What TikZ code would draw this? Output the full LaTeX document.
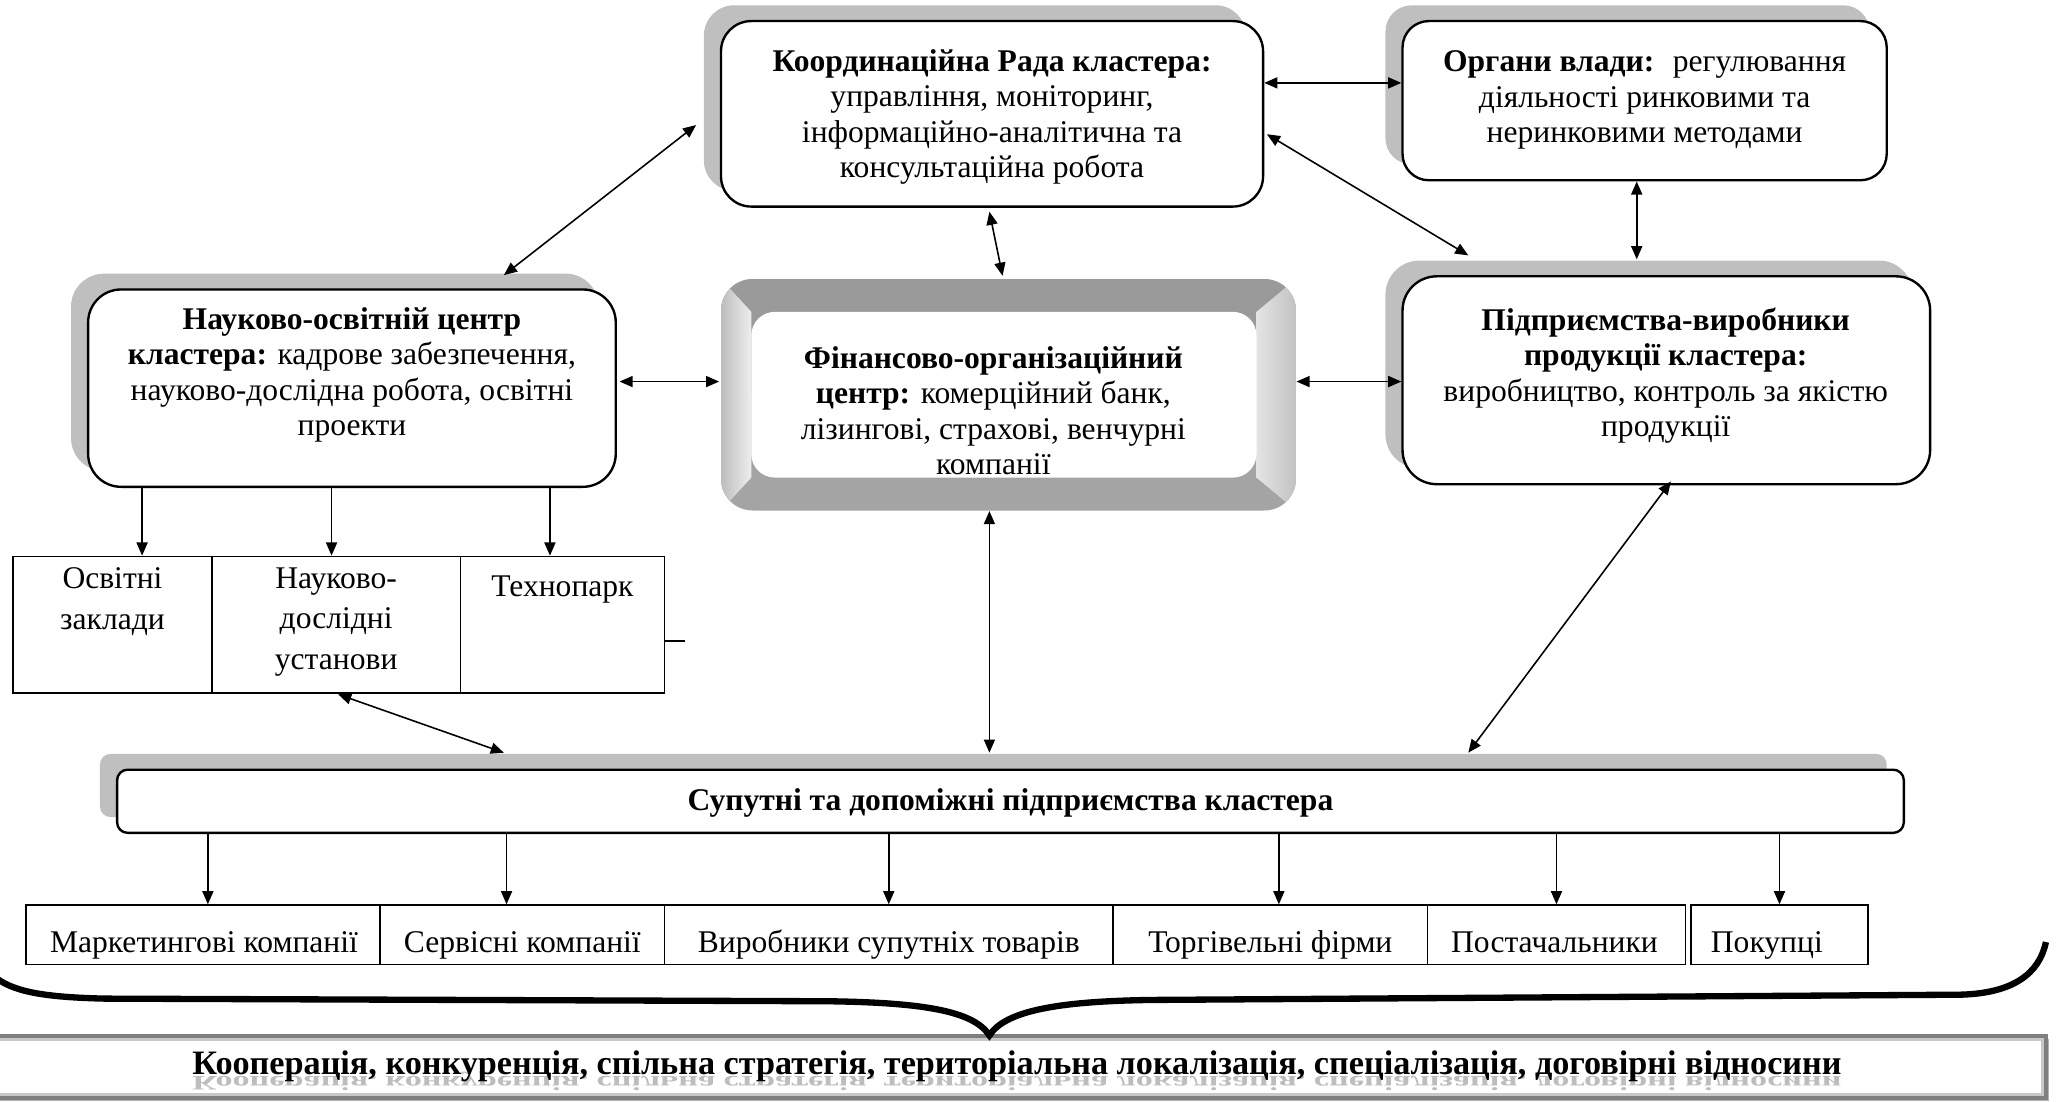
\documentclass[tikz,border=0pt]{standalone}
\usepackage{fontspec}
\setmainfont{Liberation Serif}
\usetikzlibrary{arrows.meta,calc,shadows}

\definecolor{shadegray}{HTML}{BFBFBF}
\definecolor{bevtop}{HTML}{9A9A9A}
\definecolor{bevbot}{HTML}{A4A4A4}
\definecolor{bevlo}{HTML}{BDBDBD}
\definecolor{bevli}{HTML}{EEEEEE}
\definecolor{bevri}{HTML}{E4E4E4}
\definecolor{bevro}{HTML}{C2C2C2}
\definecolor{framegray}{HTML}{7F7F7F}
\definecolor{frameinner}{HTML}{C8C8C8}
\definecolor{mirror}{HTML}{BDBDBD}

\tikzset{
  panel/.style={draw, line width=0.9pt, fill=white, rounded corners=#1, inner sep=0pt,
    drop shadow={shadow xshift=-6.5pt, shadow yshift=6pt, fill=shadegray, opacity=1}},
  panel/.default=10pt,
  txt/.style={align=center, inner sep=0pt},
  celltxt/.style={align=center, inner sep=0pt, anchor=north, font=\fontsize{12}{15.4}\selectfont},
  cell/.style={draw, line width=0.7pt, inner sep=0pt},
  link/.style={line width=0.6pt, {Triangle[length=5pt,width=4.2pt]}-{Triangle[length=5pt,width=4.2pt]}},
  down/.style={line width=0.6pt, -{Triangle[length=5pt,width=4.2pt]}},
  brace/.style={line width=2.4pt, line join=miter, line cap=butt},
  bigtxt/.style={inner sep=0pt, anchor=base, font=\fontsize{13}{15}\selectfont\bfseries},
}

\begin{document}
\begin{tikzpicture}[x=0.5pt, y=-0.5pt, font=\fontsize{12}{13.5}\selectfont]
\useasboundingbox (0,0) rectangle (1568,837);

% ---------- upper row ----------
\node[panel=11.5pt, minimum width=206pt, minimum height=70.5pt] (coord) at (754,86.5) {};
\node[txt] (coordT) at (754,89) {\textbf{Координаційна Рада кластера:}\\управління, моніторинг,\\інформаційно-аналітична та\\консультаційна робота};

\node[panel=10pt, minimum width=184pt, minimum height=60.5pt] (organs) at (1250,76.5) {};
\node[txt] (organsT) at (1250,76) {\textbf{Органи влади:}~ регулювання\\діяльності ринковими та\\неринковими методами};

% ---------- middle row ----------
\node[panel=12.5pt, minimum width=200.5pt, minimum height=75pt] (nauk) at (267.5,295) {};
\node[txt] (naukT) at (267.5,285) {\textbf{Науково-освітній центр}\\\textbf{кластера:} кадрове забезпечення,\\науково-дослідна робота, освітні\\проекти};

\node[panel=13pt, minimum width=200.5pt, minimum height=79pt] (pidpr) at (1266.5,289) {};
\node[txt] (pidprT) at (1266,285.5) {\textbf{Підприємства-виробники}\\\textbf{продукції кластера:}\\виробництво, контроль за якістю\\продукції};

% bevelled financial centre
\begin{scope}
  \clip[rounded corners=12pt] (548,212) rectangle (985,388);
  \fill[bevtop] (548,212) rectangle (985,300);
  \fill[bevbot] (548,300) rectangle (985,388);
  \shade[left color=bevlo, right color=bevli] (548,212) -- (571,237) -- (571,363) -- (548,388) -- cycle;
  \shade[left color=bevri, right color=bevro] (985,212) -- (955,237) -- (955,363) -- (985,388) -- cycle;
\end{scope}
\fill[white, rounded corners=9pt] (571,237) rectangle (955,363);
\node[inner sep=0pt, minimum width=218.5pt, minimum height=88pt] (fin) at (766.5,300) {};
\node[txt] (finT) at (755,312) {\textbf{Фінансово-організаційний}\\\textbf{центр:} комерційний банк,\\лізингові, страхові, венчурні\\компанії};

% ---------- research and education units ----------
\node[cell, minimum width=75.5pt, minimum height=52pt] (osv) at (85.5,475) {};
\node[cell, minimum width=94.5pt, minimum height=52pt] (ndu) at (255.5,475) {};
\node[cell, minimum width=77.5pt, minimum height=52pt] (tech) at (427.5,475) {};
\node[celltxt] (osvT) at (85.5,431) {Освітні\\заклади};
\node[celltxt] (nduT) at (255.5,431) {Науково-\\дослідні\\установи};
\node[celltxt] (techT) at (427.5,437) {Технопарк};
\coordinate (stubEnd) at (521,487);
\draw[line width=0.6pt] (stubEnd -| tech.east) -- (stubEnd);

% ---------- supporting enterprises ----------
\node[panel=4pt, minimum width=679pt, minimum height=24pt] (supp) at (768,609) {};
\node[txt] (suppT) at (768,610) {\textbf{Супутні та допоміжні підприємства кластера}};

\node[cell, minimum width=134.5pt, minimum height=22.5pt] (c1) at (154.5,710.5) {};
\node[cell, minimum width=108pt, minimum height=22.5pt] (c2) at (397,710.5) {};
\node[cell, minimum width=170.5pt, minimum height=22.5pt] (c3) at (675.5,710.5) {};
\node[cell, minimum width=119.5pt, minimum height=22.5pt] (c4) at (965.5,710.5) {};
\node[cell, minimum width=98pt, minimum height=22.5pt] (c5) at (1183,710.5) {};
\node[cell, minimum width=67.5pt, minimum height=22.5pt] (c6) at (1352.5,710.5) {};
\node[inner sep=0pt, anchor=base] (c1T) at (155,724) {Маркетингові компанії};
\node[inner sep=0pt, anchor=base] (c2T) at (397,724) {Сервісні компанії};
\node[inner sep=0pt, anchor=base] (c3T) at (675.5,724) {Виробники супутніх товарів};
\node[inner sep=0pt, anchor=base] (c4T) at (965.5,724) {Торгівельні фірми};
\node[inner sep=0pt, anchor=base] (c5T) at (1181.5,724) {Постачальники};
\node[inner sep=0pt, anchor=base west] (c6T) at (1300,724) {Покупці};

% ---------- connectors ----------
\draw[link] ($(coord.west)+(-18,8.5)$) -- ($(nauk.north)+(115.5,-10)$);
\draw[link] ($(coord.east)+(0,-23.5)$) -- ($(organs.west)+(0,-13.5)$);
\draw[link] ($(coord.east)+(2,15.5)$) -- ($(pidpr.north)+(-150.5,-15)$);
\draw[link] ($(coord.south)+(-2,3)$) -- ($(fin.north)+(-4.5,-2)$);
\draw[link] ($(organs.south)+(-6,0)$) -- ($(pidpr.north)+(-22.5,-12)$);
\draw[link] ($(nauk.east)+(2,-5)$) -- ($(fin.west)+(-1,-10)$);
\draw[link] ($(fin.east)+(0,-10)$) -- ($(pidpr.west)+(0,1)$);
\draw[link] ($(ndu.south)+(1.5,0)$) -- ($(supp.north)+(-385,-12)$);
\draw[link] ($(fin.south)+(-14.5,0)$) -- ($(supp.north)+(-16,-12)$);
\draw[link] ($(pidpr.south)+(3.5,-3)$) -- ($(supp.north)+(348,-12)$);

\draw[down] ($(nauk.south -| osv.north)+(22.5,0)$) -- ($(osv.north)+(22.5,0)$);
\draw[down] ($(nauk.south -| ndu.north)+(-3.5,0)$) -- ($(ndu.north)+(-3.5,0)$);
\draw[down] ($(nauk.south -| tech.north)+(-9.5,0)$) -- ($(tech.north)+(-9.5,0)$);

\draw[down] ($(supp.south -| c1.north)+(3.5,0)$) -- ($(c1.north)+(3.5,0)$);
\draw[down] ($(supp.south -| c2.north)+(-12,0)$) -- ($(c2.north)+(-12,0)$);
\draw[down] (supp.south -| c3.north) -- (c3.north);
\draw[down] ($(supp.south -| c4.north)+(6.5,0)$) -- ($(c4.north)+(6.5,0)$);
\draw[down] (supp.south -| c5.north) -- (c5.north);
\draw[down] (supp.south -| c6.north) -- (c6.north);

% ---------- summary band ----------
\node[draw=framegray, line width=1.4pt, fill=white, inner sep=0pt,
      minimum width=780pt, minimum height=23.5pt,
      drop shadow={shadow xshift=1.2pt, shadow yshift=-1.2pt, fill=gray!60, opacity=1}] (coop) at (775,811) {};
\draw[frameinner, line width=0.8pt] ($(coop.north west)+(0,4)$) -- ($(coop.north east)+(-4,4)$) -- ($(coop.south east)+(-4,-4)$) -- ($(coop.south west)+(0,-4)$);
\begin{scope}
  \clip (0,792) rectangle (1550,829);
  \begin{scope}[shift={(773,818)}, yscale=-0.6]
    \node[bigtxt, transform shape, text=mirror] (coopM) at (0,0) {Кооперація, конкуренція, спільна стратегія, територіальна локалізація, спеціалізація, договірні відносини};
  \end{scope}
\end{scope}
\node[bigtxt] (coopT) at (773,817) {Кооперація, конкуренція, спільна стратегія, територіальна локалізація, спеціалізація, договірні відносини};

% curly brace gathering all participants
\draw[brace] (-2,744) .. controls (12,754) and (35,758) .. (80,759) -- (630,761)
  .. controls (700,762) and (740,768) .. (752,787)
  .. controls (764,768) and (805,761) .. (875,760) -- (1490,756)
  .. controls (1530,755) and (1550,740) .. (1555,716);
\end{tikzpicture}
\end{document}
